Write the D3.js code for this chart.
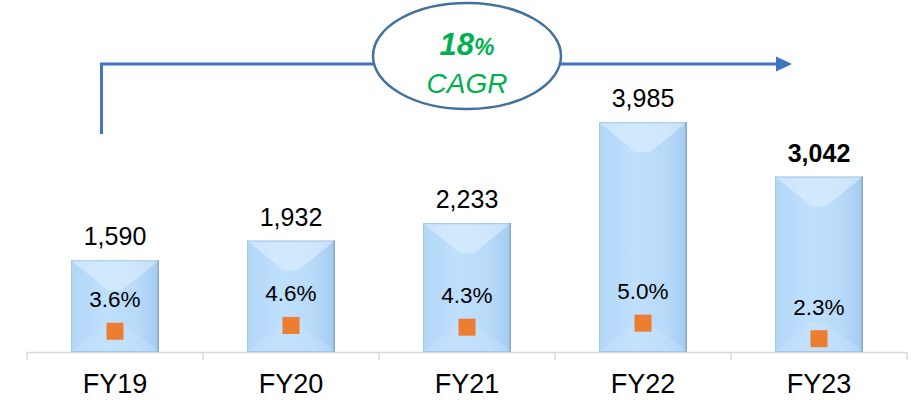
<!DOCTYPE html>
<html>
<head>
<meta charset="utf-8">
<script src="https://cdn.jsdelivr.net/npm/d3@7"></script>
<style>
  body { margin: 0; background: #fff; }
  text { font-family: Arial, "Liberation Sans", sans-serif; }
</style>
</head>
<body>
<div id="chart"></div>
<script>
// data
const years = ["FY19", "FY20", "FY21", "FY22", "FY23"];
const values = [1590, 1932, 2233, 3985, 3042];
const margins = [3.6, 4.6, 4.3, 5.0, 2.3];
const cagrLabel = ["18", "CAGR"];

const width = 913, height = 400;
const baseY = 352;

const svg = d3.select("#chart").append("svg")
    .attr("width", width)
    .attr("height", height);

const x = d3.scaleBand()
    .domain(years)
    .range([27, 907])
    .paddingInner(0.5)
    .paddingOuter(0.25);

const y = d3.scaleLinear().domain([0, 6000]).range([baseY, 6]);
const y2 = d3.scaleLinear().domain([0, 60]).range([baseY, 6]);

// gradient for bar face
const defs = svg.append("defs");
const face = defs.append("linearGradient").attr("id", "face")
    .attr("x1", "0").attr("x2", "1").attr("y1", "0").attr("y2", "0");
face.append("stop").attr("offset", "0%").attr("stop-color", "#b3d6f8");
face.append("stop").attr("offset", "40%").attr("stop-color", "#bfe0fd");
face.append("stop").attr("offset", "75%").attr("stop-color", "#b8daf9");
face.append("stop").attr("offset", "100%").attr("stop-color", "#a6cbf0");

// axis line + ticks
const step = x.step();
const x0 = x.range()[0];
svg.append("line")
    .attr("x1", x0).attr("x2", x.range()[1])
    .attr("y1", baseY + 0.5).attr("y2", baseY + 0.5)
    .attr("stroke", "#d9d9d9").attr("stroke-width", 1.5);
svg.selectAll("line.tick")
    .data(d3.range(years.length + 1))
    .enter().append("line")
    .attr("class", "tick")
    .attr("x1", i => x0 + i * step).attr("x2", i => x0 + i * step)
    .attr("y1", baseY).attr("y2", baseY + 8)
    .attr("stroke", "#d9d9d9").attr("stroke-width", 1.5);

// bars with soft bevel
const bars = svg.selectAll("g.bar")
    .data(years.map((c, i) => ({ c, v: values[i], m: margins[i] })))
    .enter().append("g")
    .attr("class", "bar");

bars.each(function(d) {
    const g = d3.select(this);
    const bx = x(d.c), bw = x.bandwidth();
    const by = y(d.v), bh = baseY - by;
    const depth = 30, inset = 37;
    g.append("rect")
        .attr("x", bx).attr("y", by)
        .attr("width", bw).attr("height", bh)
        .attr("fill", "url(#face)");
    // top bevel (light)
    g.append("polygon")
        .attr("points", [[bx, by], [bx + bw, by], [bx + bw - inset, by + depth], [bx + inset, by + depth]].join(" "))
        .attr("fill", "#e2f1fe").attr("opacity", 0.55);
    // bottom bevel
    g.append("polygon")
        .attr("points", [[bx, baseY], [bx + bw, baseY], [bx + bw - inset, baseY - depth], [bx + inset, baseY - depth]].join(" "))
        .attr("fill", "#d2e8fc").attr("opacity", 0.3);
    g.append("rect")
        .attr("x", bx + 0.5).attr("y", by + 0.5)
        .attr("width", bw - 1).attr("height", bh - 1)
        .attr("fill", "none")
        .attr("stroke", "#a3c6ea").attr("stroke-width", 1);
    g.append("line")
        .attr("x1", bx + bw - 1).attr("x2", bx + bw - 1)
        .attr("y1", by).attr("y2", baseY)
        .attr("stroke", "#86abd2").attr("stroke-width", 1.5);
});

// value labels
bars.append("text")
    .attr("x", d => x(d.c) + x.bandwidth() / 2)
    .attr("y", d => y(d.v) - 15)
    .attr("text-anchor", "middle")
    .attr("font-size", 25)
    .attr("font-weight", d => d.c === "FY23" ? "bold" : "normal")
    .attr("fill", "#000")
    .text(d => d3.format(",")(d.v));

// margin markers
bars.append("rect")
    .attr("x", d => x(d.c) + x.bandwidth() / 2 - 8.5)
    .attr("y", d => y2(d.m) - 8.5)
    .attr("width", 17).attr("height", 17)
    .attr("fill", "#ed7d31");

bars.append("text")
    .attr("x", d => x(d.c) + x.bandwidth() / 2)
    .attr("y", d => y2(d.m) - 24)
    .attr("text-anchor", "middle")
    .attr("font-size", 22.5)
    .attr("fill", "#000")
    .text(d => d.m.toFixed(1) + "%");

// category labels
svg.selectAll("text.cat")
    .data(years)
    .enter().append("text")
    .attr("class", "cat")
    .attr("x", d => x(d) + x.bandwidth() / 2)
    .attr("y", 393)
    .attr("text-anchor", "middle")
    .attr("font-size", 27)
    .attr("fill", "#000")
    .text(d => d);

// CAGR arrow
const arrowY = 64;
svg.append("path")
    .attr("d", `M101.5,134 L101.5,${arrowY} L777,${arrowY}`)
    .attr("fill", "none")
    .attr("stroke", "#4472c4")
    .attr("stroke-width", 3);
svg.append("path")
    .attr("d", `M776,${arrowY - 7.5} L792,${arrowY} L776,${arrowY + 7.5} Z`)
    .attr("fill", "#4472c4");

svg.append("ellipse")
    .attr("cx", 467).attr("cy", 56)
    .attr("rx", 94).attr("ry", 53)
    .attr("fill", "#fff")
    .attr("stroke", "#41719c")
    .attr("stroke-width", 2.5);

const t1 = svg.append("text")
    .attr("x", 467).attr("y", 55)
    .attr("text-anchor", "middle")
    .attr("font-style", "italic")
    .attr("font-weight", "bold")
    .attr("fill", "#00b050");
t1.append("tspan").attr("font-size", 31).text(cagrLabel[0]);
t1.append("tspan").attr("font-size", 23).text("%");

svg.append("text")
    .attr("x", 467).attr("y", 93)
    .attr("text-anchor", "middle")
    .attr("font-style", "italic")
    .attr("font-size", 28)
    .attr("fill", "#00b050")
    .text(cagrLabel[1]);
</script>
</body>
</html>
